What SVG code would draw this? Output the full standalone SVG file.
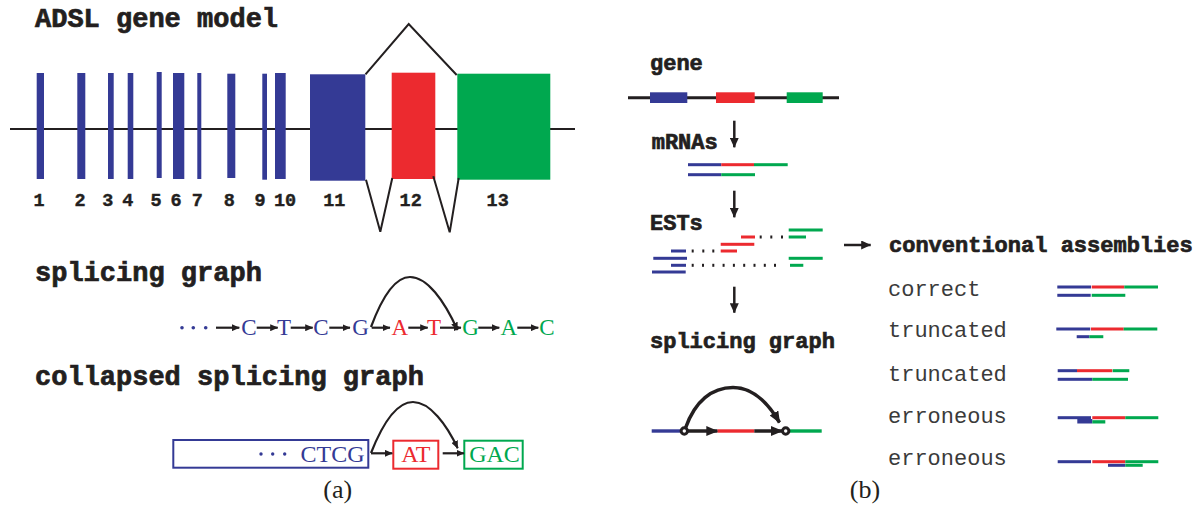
<svg xmlns="http://www.w3.org/2000/svg" width="1204" height="510" viewBox="0 0 1204 510">
  <defs>
    <style>
      .hd{font-family:"Liberation Mono","Courier New",monospace;font-weight:bold;fill:#231f20;stroke:#231f20;stroke-width:0.7}
      .h1{font-size:27px}
      .h2{font-size:22px}
      .num{font-family:"Liberation Mono",monospace;font-weight:bold;font-size:18.5px;fill:#231f20;text-anchor:middle;stroke:#231f20;stroke-width:0.4}
      .lab{font-family:"Liberation Mono","Courier New",monospace;font-size:22px;fill:#3a3a3a}
      .ser{font-family:"Liberation Serif","Times New Roman",serif;text-anchor:middle}
      .s22{font-size:23px}
      .s24{font-size:24px}
      .cap{font-family:"Liberation Serif","Times New Roman",serif;font-size:26px;fill:#231f20;text-anchor:middle}
      .b{fill:#343a95}
      .r{fill:#ec2a2f}
      .g{fill:#00a84f}
      .k{fill:#231f20}
      .ln{stroke:#231f20;fill:none}
      .thin{stroke-width:2.2}
      .bold{stroke-width:3.5}
      .box{fill:#fff;stroke-width:2}
    </style>
    <marker id="sm" markerUnits="userSpaceOnUse" markerWidth="8" markerHeight="7" refX="7.5" refY="3.5" orient="auto">
      <path d="M0,0 L8,3.5 L0,7 z" fill="#231f20"/>
    </marker>
    <marker id="lg" markerUnits="userSpaceOnUse" markerWidth="12" markerHeight="10" refX="11" refY="5" orient="auto">
      <path d="M0,0 L12,5 L0,10 z" fill="#231f20"/>
    </marker>
    <marker id="md" markerUnits="userSpaceOnUse" markerWidth="10" markerHeight="9" refX="9.5" refY="4.5" orient="auto">
      <path d="M0,0 L10,4.5 L0,9 z" fill="#231f20"/>
    </marker>
  </defs>

  <!-- ===== panel (a): gene model ===== -->
  <text class="hd h1" x="35" y="27">ADSL gene model</text>

  <g id="gene-model">
    <line class="ln" x1="10" y1="129" x2="575" y2="129" stroke-width="2"/>
    <g id="exon-1"><rect class="b" x="36.7" y="73" width="7.3" height="106"/><text class="num" x="39" y="206">1</text></g>
    <g id="exon-2"><rect class="b" x="77.3" y="73" width="8" height="106"/><text class="num" x="80" y="206">2</text></g>
    <g id="exon-3"><rect class="b" x="108" y="73" width="5.7" height="106"/><text class="num" x="107.7" y="206">3</text></g>
    <g id="exon-4"><rect class="b" x="127.7" y="73" width="5.6" height="106"/><text class="num" x="127.7" y="206">4</text></g>
    <g id="exon-5"><rect class="b" x="156.7" y="72" width="5" height="106"/><text class="num" x="156" y="206">5</text></g>
    <g id="exon-6"><rect class="b" x="173" y="73" width="11.3" height="106"/><text class="num" x="176" y="206">6</text></g>
    <g id="exon-7"><rect class="b" x="197.3" y="73" width="4" height="106"/><text class="num" x="197.3" y="206">7</text></g>
    <g id="exon-8"><rect class="b" x="227.3" y="73.7" width="8" height="104.3"/><text class="num" x="229.3" y="206">8</text></g>
    <g id="exon-9"><rect class="b" x="262.3" y="73.7" width="4.7" height="106"/><text class="num" x="260" y="206">9</text></g>
    <g id="exon-10"><rect class="b" x="275" y="73" width="10.7" height="106"/><text class="num" x="285" y="206">10</text></g>
    <g id="exon-11"><rect class="b" x="310" y="74.3" width="55.3" height="106.4"/><text class="num" x="334.3" y="206">11</text></g>
    <g id="exon-12"><rect class="r" x="391.7" y="72.7" width="43.6" height="106.3"/><text class="num" x="410.7" y="206">12</text></g>
    <g id="exon-13"><rect class="g" x="457.3" y="73.7" width="93" height="106"/><text class="num" x="497.7" y="206">13</text></g>
  </g>

  <!-- splice junctions drawn as V shapes -->
  <g id="splice-lines" class="ln" stroke-width="2">
    <polyline points="365.5,74.3 408.7,24 456.7,75"/>
    <polyline points="366,179.7 380.3,231.7 392.3,178"/>
    <polyline points="433.3,176.3 449.7,232.3 458.7,178"/>
  </g>

  <!-- ===== panel (a): splicing graph ===== -->
  <text class="hd h1" x="35" y="281">splicing graph</text>

  <g id="sg-nodes" class="ser s22">
    <g id="sg-dots" class="b"><circle cx="182" cy="327.7" r="1.8"/><circle cx="193.3" cy="327.7" r="1.8"/><circle cx="205.7" cy="327.7" r="1.8"/></g>
    <text id="sg-c1" class="b" x="249" y="335">C</text>
    <text id="sg-t1" class="b" x="284" y="335">T</text>
    <text id="sg-c2" class="b" x="321" y="335">C</text>
    <text id="sg-g1" class="b" x="360.5" y="335">G</text>
    <text id="sg-a1" class="r" x="399.7" y="335">A</text>
    <text id="sg-t2" class="r" x="434" y="335">T</text>
    <text id="sg-g2" class="g" x="470.5" y="335">G</text>
    <text id="sg-a2" class="g" x="508.7" y="335">A</text>
    <text id="sg-c3" class="g" x="547" y="335">C</text>
  </g>

  <g id="sg-edges" class="ln thin">
    <line x1="216" y1="327.7" x2="239.3" y2="327.7" marker-end="url(#sm)"/>
    <line x1="256.7" y1="327.7" x2="277.7" y2="327.7" marker-end="url(#sm)"/>
    <line x1="290.7" y1="327.7" x2="312.7" y2="327.7" marker-end="url(#sm)"/>
    <line x1="329.3" y1="327.7" x2="350" y2="327.7" marker-end="url(#sm)"/>
    <line x1="371.7" y1="327.7" x2="390" y2="327.7" marker-end="url(#sm)"/>
    <line x1="408.3" y1="327.7" x2="427.7" y2="327.7" marker-end="url(#sm)"/>
    <line x1="440" y1="327.7" x2="461" y2="327.7" marker-end="url(#sm)"/>
    <line x1="478.3" y1="327.7" x2="499.3" y2="327.7" marker-end="url(#sm)"/>
    <line x1="517.3" y1="327.7" x2="538.3" y2="327.7" marker-end="url(#sm)"/>
    <path d="M371,327 C384,292 397,277 410,277 C427,277 444,300 457.5,330" marker-end="url(#sm)"/>
  </g>

  <!-- ===== panel (a): collapsed splicing graph ===== -->
  <text class="hd h1" x="35" y="385">collapsed splicing graph</text>

  <g id="csg-node-1">
    <rect class="box" x="173.3" y="440" width="195" height="27.7" stroke="#343a95"/>
    <g class="b"><circle cx="261" cy="454" r="1.7"/><circle cx="272.7" cy="454" r="1.7"/><circle cx="284.7" cy="454" r="1.7"/></g>
    <text class="ser s24 b" x="332.5" y="462">CTCG</text>
  </g>
  <g id="csg-node-2">
    <rect class="box" x="393.3" y="440.7" width="45" height="28" stroke="#ec2a2f"/>
    <text class="ser s24 r" x="415.8" y="462">AT</text>
  </g>
  <g id="csg-node-3">
    <rect class="box" x="464.3" y="440.7" width="58.4" height="28" stroke="#00a84f"/>
    <text class="ser s24 g" x="494.5" y="462">GAC</text>
  </g>
  <g id="csg-edges" class="ln thin">
    <line x1="371" y1="453.3" x2="392.3" y2="453.3" marker-end="url(#sm)"/>
    <line x1="442.7" y1="453.3" x2="464" y2="453.3" marker-end="url(#sm)"/>
    <path d="M371,453 C384,420 398,402 413,402 C430,402 447,425 457.7,448.3" marker-end="url(#sm)"/>
  </g>

  <text class="cap" x="337.7" y="498">(a)</text>

  <!-- ===== panel (b) ===== -->
  <text class="hd h2" x="650" y="70">gene</text>
  <g id="b-gene">
    <line class="ln" x1="628" y1="97.7" x2="839" y2="97.7" stroke-width="3"/>
    <rect class="b" x="650" y="92.3" width="37.3" height="10.7"/>
    <rect class="r" x="716" y="92.3" width="38.7" height="10.7"/>
    <rect class="g" x="786.7" y="92.3" width="36" height="10.7"/>
  </g>

  <text class="hd h2" x="651.7" y="149">mRNAs</text>
  <g id="b-mrnas">
    <rect class="b" x="688" y="163.2" width="33.3" height="3"/>
    <rect class="r" x="721.3" y="163.2" width="32.7" height="3"/>
    <rect class="g" x="754" y="163.2" width="33.7" height="3"/>
    <rect class="b" x="688" y="173.2" width="33.3" height="3"/>
    <rect class="g" x="721.3" y="173.2" width="33.7" height="3"/>
  </g>

  <text class="hd h2" x="650" y="230">ESTs</text>
  <g id="b-ests">
    <rect class="g" x="788.7" y="228.5" width="34" height="3"/>
    <rect class="r" x="741" y="235.5" width="14" height="3"/>
    <rect class="g" x="788.7" y="235.5" width="17.3" height="3"/>
    <rect class="r" x="720.7" y="242.8" width="33.6" height="3"/>
    <rect class="b" x="671" y="249.5" width="15" height="3"/>
    <rect class="r" x="720.7" y="249.5" width="16.3" height="3"/>
    <rect class="b" x="653.3" y="256.8" width="33.7" height="3"/>
    <rect class="g" x="788.7" y="256.8" width="34" height="3"/>
    <rect class="b" x="671" y="263.8" width="15" height="3"/>
    <rect class="g" x="790" y="263.8" width="13.3" height="3"/>
    <rect class="b" x="652" y="270.5" width="33.7" height="3"/>
    <g class="k">
      <rect x="759.7" y="235.5" width="2" height="3"/><rect x="770.3" y="235.5" width="2" height="3"/><rect x="781" y="235.5" width="2" height="3"/>
      <rect x="691.7" y="249.5" width="2" height="3"/><rect x="702.3" y="249.5" width="2" height="3"/><rect x="712.3" y="249.5" width="2" height="3"/>
      <rect x="691.7" y="263.8" width="2" height="3"/><rect x="702" y="263.8" width="2" height="3"/><rect x="712.3" y="263.8" width="2" height="3"/>
      <rect x="722.6" y="263.8" width="2" height="3"/><rect x="732.9" y="263.8" width="2" height="3"/><rect x="743.2" y="263.8" width="2" height="3"/>
      <rect x="753.5" y="263.8" width="2" height="3"/><rect x="763.8" y="263.8" width="2" height="3"/><rect x="774" y="263.8" width="2" height="3"/>
    </g>
  </g>

  <text class="hd h2" x="650" y="348.3">splicing graph</text>
  <g id="b-splicing-graph">
    <rect class="b" x="651.7" y="429.3" width="30" height="3.4"/>
    <rect class="r" x="717.3" y="429.3" width="37" height="3.4"/>
    <rect class="g" x="790" y="429.3" width="31.7" height="3.4"/>
    <g class="ln bold">
      <line x1="687" y1="431" x2="717.3" y2="431" marker-end="url(#lg)"/>
      <line x1="754.3" y1="431" x2="782" y2="431" marker-end="url(#lg)"/>
      <path d="M685.5,428 C695,401 712,387.5 733,387.5 C752,387.5 767,401 779.5,422.5" marker-end="url(#lg)"/>
    </g>
    <circle cx="684.3" cy="431" r="3.2" fill="#fff" stroke="#231f20" stroke-width="3"/>
    <circle cx="785.7" cy="431" r="3.2" fill="#fff" stroke="#231f20" stroke-width="3"/>
  </g>

  <!-- flow arrows -->
  <g id="b-arrows" class="ln" stroke-width="2.5">
    <line x1="734.3" y1="120.7" x2="734.3" y2="147.3" marker-end="url(#md)"/>
    <line x1="734.3" y1="190.7" x2="734.3" y2="217.3" marker-end="url(#md)"/>
    <line x1="734.3" y1="286.7" x2="734.3" y2="312.7" marker-end="url(#md)"/>
    <line x1="844" y1="245" x2="870.7" y2="245" marker-end="url(#md)"/>
  </g>

  <text class="hd h2" x="889" y="251.7">conventional assemblies</text>

  <g id="assembly-correct">
    <text class="lab" x="888" y="296">correct</text>
    <rect class="b" x="1057.3" y="285.5" width="33.7" height="3"/>
    <rect class="r" x="1091.7" y="285.5" width="32.6" height="3"/>
    <rect class="g" x="1124.3" y="285.5" width="33.7" height="3"/>
    <rect class="b" x="1057.3" y="293.8" width="33.4" height="3"/>
    <rect class="g" x="1091.7" y="293.8" width="33.6" height="3"/>
  </g>
  <g id="assembly-truncated-1">
    <text class="lab" x="888" y="337.3">truncated</text>
    <rect class="b" x="1056.3" y="327.5" width="34" height="3"/>
    <rect class="r" x="1091" y="327.5" width="32.7" height="3"/>
    <rect class="g" x="1123.7" y="327.5" width="33.6" height="3"/>
    <rect class="b" x="1076.7" y="335.2" width="12.6" height="3"/>
    <rect class="g" x="1089.3" y="335.2" width="14" height="3"/>
  </g>
  <g id="assembly-truncated-2">
    <text class="lab" x="888" y="380.7">truncated</text>
    <rect class="b" x="1057.7" y="369.2" width="19.3" height="3"/>
    <rect class="r" x="1077" y="369.2" width="35.3" height="3"/>
    <rect class="g" x="1112.7" y="369.2" width="16.6" height="3"/>
    <rect class="b" x="1057.7" y="377.8" width="34.6" height="3"/>
    <rect class="g" x="1092.3" y="377.8" width="35.7" height="3"/>
  </g>
  <g id="assembly-erroneous-1">
    <text class="lab" x="888" y="423.3">erroneous</text>
    <rect class="b" x="1057.7" y="416.2" width="33.3" height="3"/>
    <rect class="r" x="1092.3" y="416.2" width="33" height="3"/>
    <rect class="g" x="1125.3" y="416.2" width="33" height="3"/>
    <rect class="b" x="1077.3" y="419" width="15" height="4.5"/>
    <rect class="g" x="1092.3" y="420.2" width="13" height="3.3"/>
  </g>
  <g id="assembly-erroneous-2">
    <text class="lab" x="888" y="465">erroneous</text>
    <rect class="b" x="1057.7" y="460.2" width="33.3" height="3"/>
    <rect class="r" x="1092.3" y="460.2" width="33" height="3"/>
    <rect class="g" x="1125.3" y="460.2" width="33" height="3"/>
    <rect class="b" x="1108" y="463.8" width="17.3" height="3"/>
    <rect class="g" x="1125.3" y="463.8" width="17.4" height="3"/>
  </g>

  <text class="cap" x="865" y="498">(b)</text>
</svg>
